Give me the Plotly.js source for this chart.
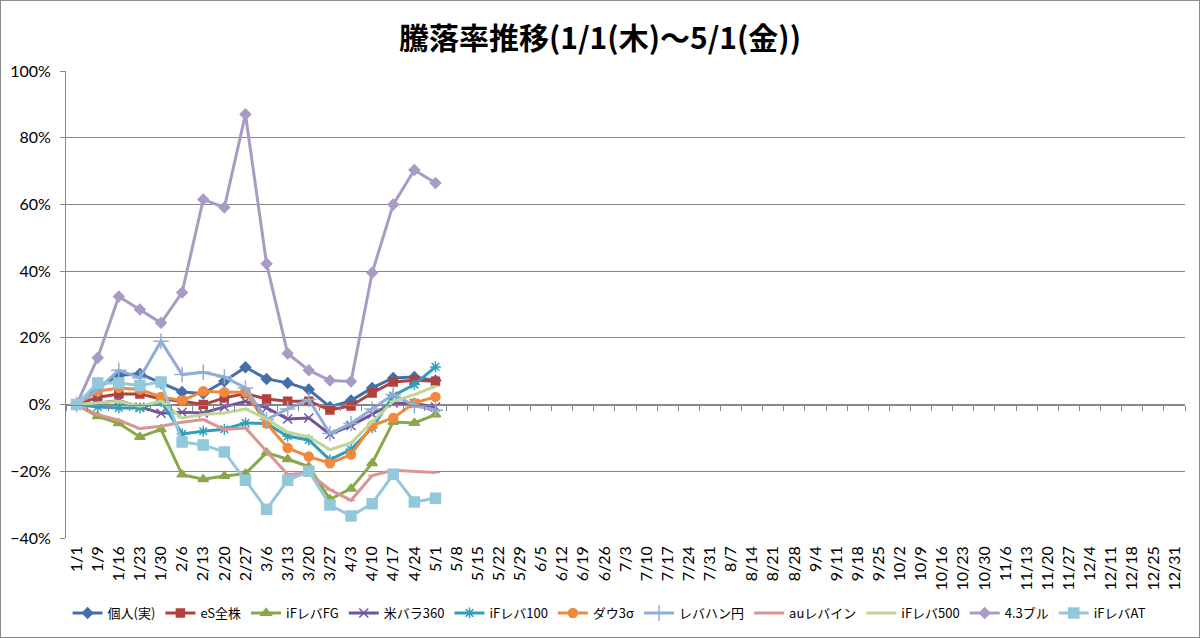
<!DOCTYPE html>
<html>
<head>
<meta charset="utf-8">
<script src="https://cdn.plot.ly/plotly-3.0.1.min.js"></script>
<style>
  html, body { margin: 0; padding: 0; background: #fff; }
  #chart { width: 1200px; height: 638px; box-sizing: border-box; border: 1px solid #8c8c8c; }
</style>
</head>
<body>
<div id="chart"></div>
<script>
// weekly dates, 1/1 .. 12/31
var dates = ['1/1', '1/9', '1/16', '1/23', '1/30', '2/6', '2/13', '2/20', '2/27',
    '3/6', '3/13', '3/20', '3/27', '4/3', '4/10', '4/17', '4/24', '5/1', '5/8',
    '5/15', '5/22', '5/29', '6/5', '6/12', '6/19', '6/26', '7/3', '7/10', '7/17',
    '7/24', '7/31', '8/7', '8/14', '8/21', '8/28', '9/4', '9/11', '9/18', '9/25',
    '10/2', '10/9', '10/16', '10/23', '10/30', '11/6', '11/13', '11/20', '11/27',
    '12/4', '12/11', '12/18', '12/25', '12/31'];

// values in %, 1/1 .. 5/1
var kojin    = [0, 5.0, 8.8, 9.2, 6.5, 3.8, 3.3, 7.0, 11.2, 7.7, 6.5, 4.5, -0.7, 1.2, 5.0, 8.0, 8.3, 7.2];
var esZen    = [0, 2.2, 3.2, 3.2, 1.7, 1.0, 0.0, 2.0, 3.3, 1.7, 1.0, 1.0, -1.6, -0.4, 3.5, 6.8, 7.3, 7.0];
var ifFG     = [0, -3.5, -5.6, -9.7, -7.4, -21.0, -22.4, -21.4, -20.7, -14.4, -16.4, -18.6, -28.4, -25.2, -17.6, -5.2, -5.5, -3.0];
var bei360   = [0, 0.4, 1.2, -0.8, -2.6, -2.3, -2.5, -0.7, 1.0, -1.0, -4.3, -4.0, -8.9, -6.3, -2.8, 0.5, 0.3, -0.7];
var if100    = [0, -0.7, -1.0, -1.0, 1.0, -8.8, -8.0, -7.4, -5.5, -5.7, -9.5, -10.6, -16.6, -13.4, -7.0, 2.7, 6.0, 11.3];
var dow3s    = [0, 4.0, 5.0, 4.5, 2.3, 1.2, 4.0, 3.7, 3.7, -5.6, -13.0, -15.6, -17.6, -15.0, -6.3, -4.0, 0.5, 2.3];
var rebaYen  = [0, 4.5, 10.3, 8.0, 19.0, 9.0, 9.7, 8.3, 5.0, -4.5, -1.3, 1.5, -8.7, -5.7, -1.3, 3.0, -0.3, -1.7];
var auReba   = [0, -3.0, -4.7, -7.2, -6.5, -5.3, -4.5, -7.5, -7.0, -14.0, -21.0, -20.5, -25.5, -28.7, -21.3, -19.7, -20.0, -20.4];
var if500    = [0, 0.5, 1.0, -0.5, 1.0, -4.0, -3.0, -2.5, -1.3, -4.3, -8.3, -9.7, -13.5, -11.5, -5.3, 1.0, 3.0, 5.5];
var bull43   = [0, 14.0, 32.4, 28.5, 24.5, 33.6, 61.5, 59.1, 87.0, 42.2, 15.3, 10.3, 7.2, 6.9, 39.5, 60.0, 70.3, 66.4];
var ifAT     = [0, 6.5, 6.5, 5.7, 6.8, -11.2, -12.1, -14.2, -22.7, -31.4, -22.7, -20.0, -30.1, -33.4, -29.7, -20.9, -29.2, -28.1];

var yMin = -40, yMax = 100;

var seriesDefs = [
    {name: '個人(実)',  y: kojin,   color: '#4470aa', symbol: 'diamond',         size: 8},
    {name: 'eS全株',    y: esZen,   color: '#b2413e', symbol: 'square',          size: 8},
    {name: 'iFレバFG',  y: ifFG,    color: '#88a84a', symbol: 'triangle-up',     size: 9},
    {name: '米バラ360', y: bei360,  color: '#71559e', symbol: 'x-thin-open',     size: 9},
    {name: 'iFレバ100', y: if100,   color: '#319db6', symbol: 'asterisk-open',   size: 9},
    {name: 'ダウ3σ',    y: dow3s,   color: '#ef8a3c', symbol: 'circle',          size: 9},
    {name: 'レバハン円', y: rebaYen, color: '#91acd5', symbol: 'cross-thin-open', size: 11},
    {name: 'auレバイン', y: auReba,  color: '#d89593', symbol: 'line-ew-open',    size: 6},
    {name: 'iFレバ500', y: if500,   color: '#c0d59a', symbol: 'line-ew-open',    size: 6},
    {name: '4.3ブル',   y: bull43,  color: '#a99bc4', symbol: 'diamond',         size: 8},
    {name: 'iFレバAT',  y: ifAT,    color: '#93c8db', symbol: 'square',          size: 10}
];

var data = seriesDefs.map(function(s) {
    return {
        x: dates.slice(0, s.y.length),
        y: s.y,
        name: s.name,
        type: 'scatter',
        mode: 'lines+markers',
        line: {color: s.color, width: 3},
        marker: {symbol: s.symbol, size: s.size, color: s.color,
                 line: {color: s.color, width: 1.5}},
        hoverinfo: 'x+y+name'
    };
});

var gridColor = '#878787';
var tickFont = {family: 'Lato, Liberation Sans, sans-serif', size: 16, color: '#000'};

var layout = {
    width: 1198,
    height: 636,
    paper_bgcolor: '#fff',
    plot_bgcolor: '#fff',
    margin: {l: 65, r: 14, t: 70, b: 99},
    title: {
        text: '騰落率推移(1/1(木)～5/1(金))',
        font: {family: 'Noto Sans CJK JP', size: 30, color: '#000', weight: 'bold'},
        x: 0.5, xanchor: 'center',
        y: 1 - 37 / 636, yanchor: 'middle'
    },
    showlegend: true,
    legend: {
        orientation: 'h',
        xref: 'container', yref: 'container',
        x: 0.508, xanchor: 'center',
        y: 1 - 612 / 636, yanchor: 'middle',
        font: {family: 'Noto Sans CJK JP', size: 13, color: '#000'},
        itemwidth: 30,
        tracegroupgap: 0
    },
    xaxis: {
        type: 'category',
        categoryorder: 'array',
        categoryarray: dates,
        range: [-0.5, dates.length - 0.5],
        tickmode: 'array',
        tickvals: dates,
        ticktext: dates,
        tickangle: -90,
        tickfont: tickFont,
        ticklabelstandoff: 4,
        showgrid: false,
        zeroline: false,
        showline: false,
        ticks: '',
        fixedrange: true
    },
    // horizontal axis line crossing at 0%, ticks between categories
    xaxis2: {
        type: 'category',
        categoryorder: 'array',
        categoryarray: dates,
        range: [-0.5, dates.length - 0.5],
        overlaying: 'x',
        anchor: 'free',
        position: (0 - yMin) / (yMax - yMin),
        side: 'bottom',
        tickmode: 'array',
        tickvals: dates,
        tickson: 'boundaries',
        ticks: 'outside',
        ticklen: 5,
        tickcolor: gridColor,
        showticklabels: false,
        showgrid: false,
        zeroline: false,
        showline: true,
        linecolor: gridColor,
        linewidth: 1
    },
    yaxis: {
        range: [yMin, yMax],
        dtick: 20,
        ticksuffix: '%',
        tickfont: tickFont,
        ticklabelstandoff: 6,
        showgrid: true,
        gridcolor: gridColor,
        gridwidth: 1,
        zeroline: false,
        showline: true,
        linecolor: gridColor,
        ticks: 'outside',
        ticklen: 5,
        tickcolor: gridColor,
        fixedrange: true
    }
};

// hidden copy of the first series on x2 so the 0% axis line gets drawn
data.push({
    x: dates.slice(0, kojin.length),
    y: kojin,
    xaxis: 'x2',
    type: 'scatter',
    mode: 'lines',
    line: {width: 0},
    opacity: 0,
    showlegend: false,
    hoverinfo: 'skip'
});

Plotly.newPlot('chart', data, layout, {displayModeBar: false, staticPlot: true});
</script>
</body>
</html>
